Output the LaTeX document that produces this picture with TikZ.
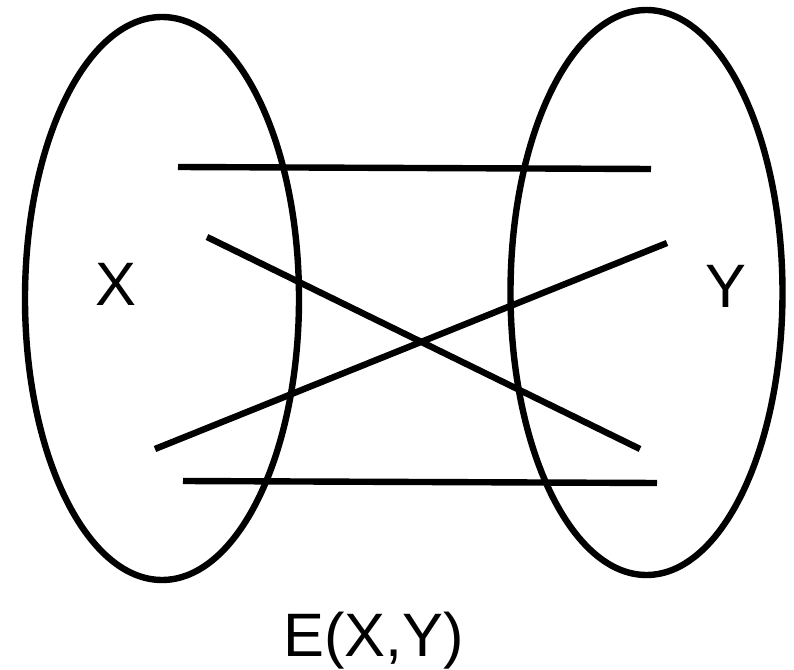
\documentclass[tikz,border=0pt]{standalone}
\usepackage{fontspec}
\setmainfont{Liberation Sans}
\begin{document}
\begin{tikzpicture}[x=0.75pt,y=-0.75pt,
  setline/.style={line width=4.8pt},
  edgeline/.style={line width=4.8pt},
  lbl/.style={font=\fontsize{46}{50}\selectfont, inner sep=0pt, anchor=base}]
\useasboundingbox (0,0) rectangle (794,670);
\draw[setline] (162,298.5) ellipse [x radius=137, y radius=281.5];
\draw[setline] (646.5,292.5) ellipse [x radius=136, y radius=282.5];
\coordinate (a1) at (178,167);
\coordinate (b1) at (651,169);
\coordinate (a2) at (207,237);
\coordinate (b2) at (640,449);
\coordinate (a3) at (155,449);
\coordinate (b3) at (667,243);
\coordinate (a4) at (183,481);
\coordinate (b4) at (657,483);
\draw[edgeline] (a1) -- (b1);
\draw[edgeline] (a2) -- (b2);
\draw[edgeline] (a3) -- (b3);
\draw[edgeline] (a4) -- (b4);
\node[lbl] (X) at (115.5,306) {X};
\node[lbl] (Y) at (725.5,308) {Y};
\node[lbl] (E) at (373.5,657) {E(X,Y)};
\end{tikzpicture}
\end{document}
